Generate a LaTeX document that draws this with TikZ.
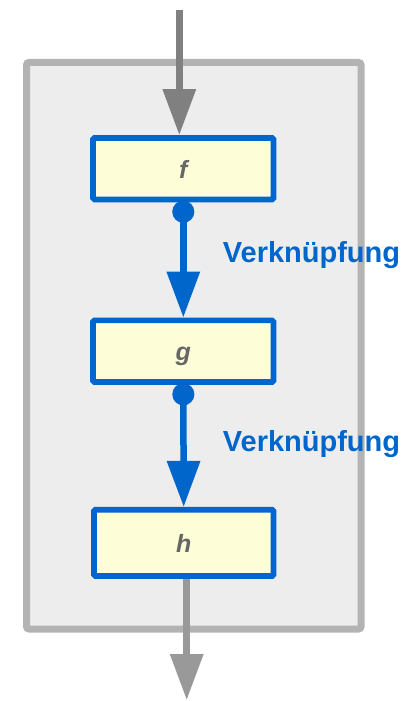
\documentclass[tikz,border=0pt]{standalone}
\usepackage{fontspec}
\setmainfont{Liberation Sans}
\usetikzlibrary{arrows.meta}
\definecolor{frameGray}{HTML}{B3B3B3}
\definecolor{frameFill}{HTML}{EDEDED}
\definecolor{linkBlue}{HTML}{0066CC}
\definecolor{boxFill}{HTML}{FDFDD8}
\definecolor{inGray}{HTML}{808080}
\definecolor{outGray}{HTML}{999999}
\definecolor{labelGray}{HTML}{666666}
\begin{document}
\begin{tikzpicture}[x=1pt,y=-1pt,
  frame/.style={draw=frameGray, fill=frameFill, line width=7pt, rounded corners=2.5pt},
  funcbox/.style={draw=linkBlue, line width=5.7pt, fill=boxFill, rounded corners=1.5pt,
    minimum width=180.5pt, inner sep=0pt, text height=24pt, text depth=4.8pt,
    font=\fontsize{25}{30}\selectfont\bfseries\itshape, text=labelGray},
  link/.style={draw=linkBlue, line width=6.5pt, shorten <=-1.6pt,
    {Circle[length=22pt,width=22pt]}-{Triangle[length=46pt,width=32pt]}},
  flow/.style={line width=6.5pt, -{Triangle[length=46pt,width=32pt]}},
  linklabel/.style={anchor=base west, inner sep=0pt,
    font=\fontsize{29}{34}\selectfont\bfseries, text=linkBlue},
]
\useasboundingbox (0,0) rectangle (407,701);

% enclosing frame
\draw[frame] (26.5,62.5) rectangle (361,629);

% the three composed functions
\node[funcbox, minimum height=61.6pt] (f) at (183.3,168.7) {f};
\node[funcbox, minimum height=61.7pt] (g) at (183.3,351.2) {g};
\node[funcbox, minimum height=66.3pt, minimum width=179.6pt] (h) at (183.7,542.9) {h};

% input and output
\coordinate (in) at (179.3,10);
\coordinate (out) at (186.7,700);
\draw[flow, draw=inGray] (in) -- (in |- f.north);
\draw[flow, draw=outGray] (h.south -| out) -- (out);

% links between the functions
\draw[link] (f.south) -- (g.north);
\draw[link] (g.south) -- (h.north);

\node[linklabel] (l1) at (222.7,262.7) {Verknüpfung};
\node[linklabel] (l2) at (222.7,451) {Verknüpfung};
\end{tikzpicture}
\end{document}
